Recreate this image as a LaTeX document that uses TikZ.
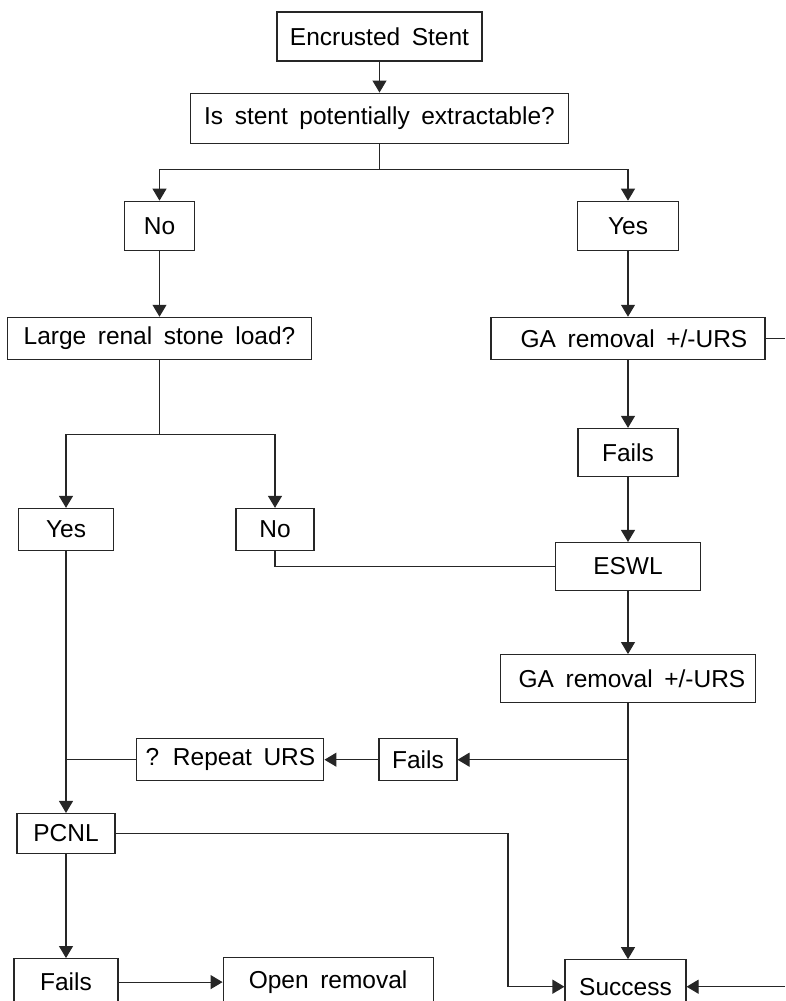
\documentclass[tikz,border=0pt]{standalone}
\usepackage{fontspec}
\setmainfont[WordSpace=1.7]{Liberation Sans}
\usepackage{tikz}
\usetikzlibrary{arrows.meta, positioning}
\tikzset{
  block/.style = {rectangle, draw=black!85, line width=1.1pt, inner sep=0pt,
                  minimum height=48pt, align=center,
                  font=\fontsize{24.5}{29}\selectfont},
  flat/.style  = {block, minimum height=42pt},
  wire/.style  = {draw=black!85, line width=1.1pt},
  arr/.style   = {wire, -{Triangle[length=12pt, width=14pt]}},
}

\begin{document}
\begin{tikzpicture}
  \useasboundingbox (0,0) rectangle (785pt,-1001pt);
  \coordinate (rim) at (785pt,0);
  \coordinate (turn) at (508pt,0);

  \node[block, minimum width=205pt, minimum height=49pt] (enc) at (379.5pt,-36.5pt) {Encrusted Stent};
  \node[block, below=31pt of enc, minimum width=378pt, minimum height=50pt] (ext) {Is stent potentially extractable?};

  \node[block, below=57pt of ext, xshift=-220pt, minimum width=70pt, minimum height=49pt] (noA) {No};
  \node[block, below=57pt of ext, xshift=248.5pt, minimum width=101pt, minimum height=49pt] (yesA) {Yes};

  % left branch
  \node[flat, below=66pt of noA, minimum width=304pt] (load) {Large renal stone load?};
  \node[flat, below=148pt of load, xshift=-93.5pt, minimum width=95pt] (yesB) {Yes};
  \node[flat, below=148pt of load, xshift=115.5pt, minimum width=78pt] (noB) {No};

  % right branch
  \node[flat, below=66pt of yesA, minimum width=274pt] (gaA) {\hspace{12pt}GA removal +/-URS};
  \node[block, below=68pt of gaA, minimum width=100pt] (failA) {Fails};
  \node[block, below=65pt of failA, minimum width=145pt] (eswl) {ESWL};
  \node[block, below=63pt of eswl, minimum width=255pt] (gaB) {\hspace{8pt}GA removal +/-URS};
  \node[flat, below=35pt of gaB, xshift=-210pt, minimum width=78pt] (failB) {Fails};
  \node[flat, left=54pt of failB, minimum width=187pt] (rep) {? Repeat URS};

  % bottom
  \node[block, below=262pt of yesB, minimum width=98pt, minimum height=40pt] (pcnl) {PCNL};
  \node[block, below=104pt of pcnl, minimum width=104pt, minimum height=47pt] (failC) {Fails};
  \node[block, right=104pt of failC, minimum width=210pt, minimum height=49pt] (open) {Open removal};
  \node[block, below=256pt of gaB, xshift=-2.5pt, minimum width=121pt, minimum height=54pt] (succ) {Success};

  \draw[arr] (enc) -- (ext);
  \draw[wire] (ext.south) -- ++(0,-26pt) coordinate (fork1);
  \draw[arr] (fork1) -| (noA);
  \draw[arr] (fork1) -| (yesA);
  \draw[arr] (noA) -- (load);
  \draw[arr] (yesA) -- (gaA);
  \draw[wire] (gaA.east) -- (gaA.east -| rim);

  \draw[wire] (load.south) -- ++(0,-75pt) coordinate (fork2);
  \draw[arr] (fork2) -| (yesB);
  \draw[arr] (fork2) -| (noB);

  \draw[arr] (gaA) -- (failA);
  \draw[arr] (failA) -- (eswl);
  \draw[arr] (eswl) -- (gaB);
  \draw[wire] (noB.south) |- (eswl.west);

  \draw[arr] (gaB.south) -- (gaB.south |- succ.north);
  \draw[arr] (gaB.south |- failB.east) -- (failB.east);
  \draw[arr] (failB) -- (rep);
  \draw[wire] (rep.west) -- (rep.west -| yesB.south);

  \draw[arr] (yesB) -- (pcnl);
  \draw[arr] (pcnl.east) -| (turn |- succ.west) -- (succ.west);
  \draw[arr] (pcnl) -- (failC);
  \draw[arr] (failC) -- (open);
  \draw[arr] (succ.east -| rim) -- (succ.east);
\end{tikzpicture}
\end{document}
